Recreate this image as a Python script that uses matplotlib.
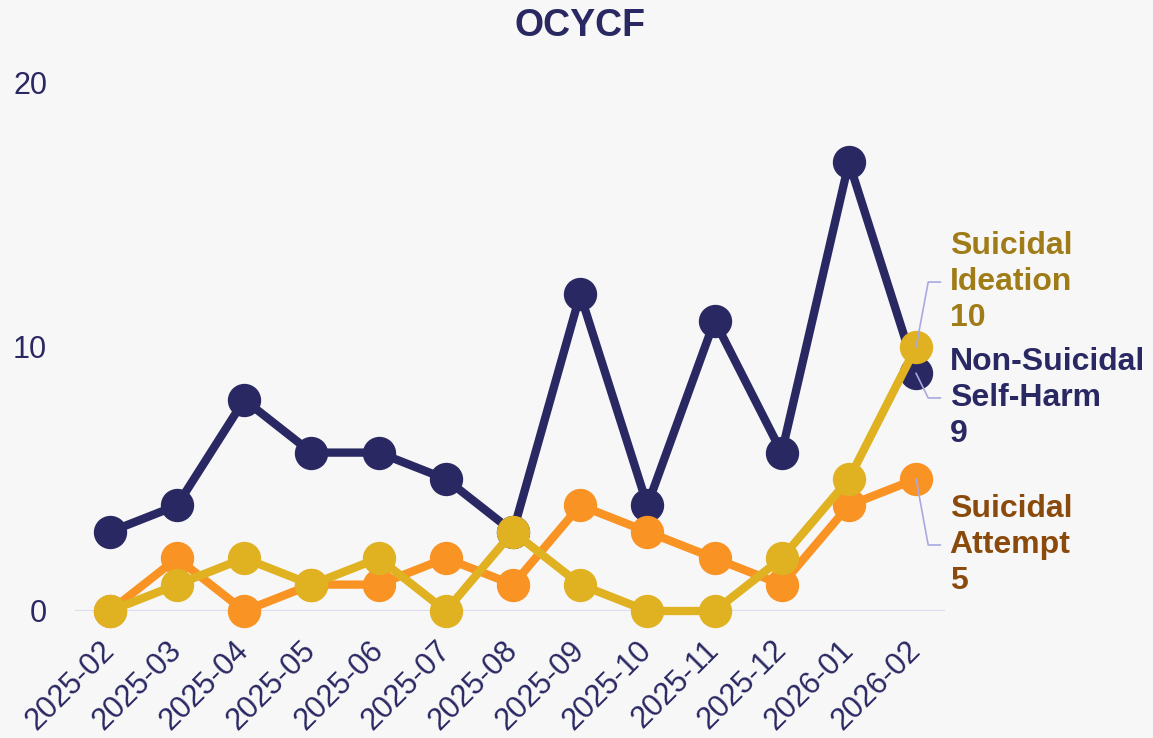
import matplotlib.pyplot as plt

plt.rcParams['font.family'] = ['Liberation Sans', 'DejaVu Sans']

months = ['2025-02', '2025-03', '2025-04', '2025-05', '2025-06', '2025-07', '2025-08',
          '2025-09', '2025-10', '2025-11', '2025-12', '2026-01', '2026-02']
self_harm = [3, 4, 8, 6, 6, 5, 3, 12, 4, 11, 6, 17, 9]
attempt = [0, 2, 0, 1, 1, 2, 1, 4, 3, 2, 1, 4, 5]
ideation = [0, 1, 2, 1, 2, 0, 3, 1, 0, 0, 2, 5, 10]

NAVY = '#2a2862'
ORANGE = '#f99324'
YELLOW = '#e0b222'
BG = '#f7f7f7'
LEADER = '#a9a9e0'

W, H = 1153, 738
fig = plt.figure(figsize=(W / 100, H / 100), dpi=100, facecolor=BG)
# axes box in pixels: left 75, right 945, top 83, bottom 611
ax = fig.add_axes([75 / W, 1 - 611 / H, (945 - 75) / W, (611 - 83) / H], facecolor=BG)

x = list(range(len(months)))
ax.axhline(0, color='#dcdcf0', lw=1.5, zorder=1)

series = [
    (self_harm, NAVY, NAVY, ['Non-Suicidal', 'Self-Harm'], 8.07),
    (attempt, ORANGE, '#8a4a0c', ['Suicidal', 'Attempt'], 2.5),
    (ideation, YELLOW, '#a07c18', ['Suicidal', 'Ideation'], 12.46),
]
for vals, col, tcol, name, ly in series:
    ax.plot(x, vals, color=col, lw=6, marker='o', ms=23, solid_joinstyle='round',
            clip_on=False, zorder=3)
    last = len(vals) - 1
    ax.plot([last, last + 0.18, last + 0.36], [vals[-1], ly, ly], color=LEADER, lw=1.2,
            clip_on=False, zorder=4)
    ax.text(last + 0.5, ly, '\n'.join([name[0], name[1], str(vals[-1])]),
            color=tcol, fontsize=23, fontweight='bold', ha='left', va='center',
            linespacing=1.27, multialignment='left')

ax.set_xlim(-0.52, 12.43)
ax.set_ylim(0, 20)
ax.set_yticks([0, 10, 20])
ax.set_xticks(x)
ax.set_xticklabels(months, rotation=45, ha='right', va='center', rotation_mode='anchor')
ax.tick_params(axis='both', length=0, labelsize=22, labelcolor=NAVY)
ax.tick_params(axis='y', pad=20)
ax.tick_params(axis='x', pad=25)
for s in ax.spines.values():
    s.set_visible(False)

fig.text(580 / W, 1 - 26 / H, 'OCYCF', ha='center', va='center', fontsize=27,
         fontweight='bold', color=NAVY)

fig.savefig('out.png', dpi=100, facecolor=BG)
